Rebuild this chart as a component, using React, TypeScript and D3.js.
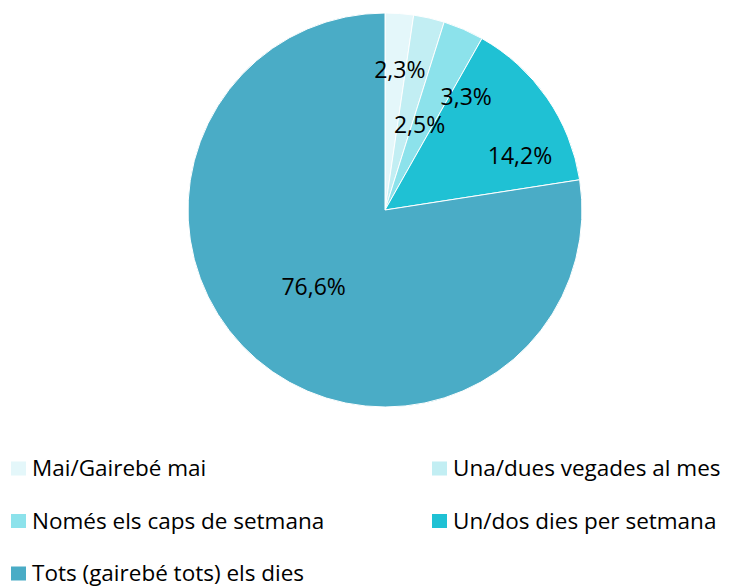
import React from 'react';
import * as d3 from 'd3';

const categories = [
  'Mai/Gairebé mai',
  'Una/dues vegades al mes',
  'Només els caps de setmana',
  'Un/dos dies per setmana',
  'Tots (gairebé tots) els dies',
];
const values = [2.3, 2.5, 3.3, 14.2, 76.6];
const labels = ['2,3%', '2,5%', '3,3%', '14,2%', '76,6%'];
const colors = ['#E4F7FA', '#C2EEF3', '#8CE2EB', '#1FC1D4', '#4AACC6'];

// label placement (angle nudge in degrees, distance as share of radius)
const labelPlace: [number, number][] = [
  [1.8, 0.72],
  [9, 0.47],
  [12, 0.71],
  [12.5, 0.74],
  [2.5, 0.53],
];

const W = 731;
const H = 587;
const cx = 385;
const cy = 210;
const R = 197;

const App: React.FC = () => {
  const pie = d3.pie<number>().sort(null).value((d) => d)(values);
  const arc = d3.arc<d3.PieArcDatum<number>>().innerRadius(0).outerRadius(R);

  const legendX = d3.scaleOrdinal<number, number>().domain([0, 1]).range([11, 432]);
  const legendY = d3.scaleLinear().domain([0, 1]).range([468.5, 521]);

  return (
    <svg width={W} height={H} style={{ position: 'absolute', left: 0, top: 0 }}>
      <rect width={W} height={H} fill="#fff" />
      <g transform={`translate(${cx},${cy})`}>
        {pie.map((p, i) => (
          <path key={i} d={arc(p) || ''} fill={colors[i]} stroke="#fff" strokeWidth={1} />
        ))}
        {pie.map((p, i) => {
          const mid = (p.startAngle + p.endAngle) / 2 + (labelPlace[i][0] * Math.PI) / 180;
          const r = labelPlace[i][1] * R;
          return (
            <text
              key={i}
              x={Math.sin(mid) * r}
              y={-Math.cos(mid) * r}
              textAnchor="middle"
              dominantBaseline="central"
              fontFamily="'Open Sans', sans-serif"
              fontSize={23}
              fill="#000"
            >
              {labels[i]}
            </text>
          );
        })}
      </g>
      <g fontFamily="'Open Sans', sans-serif" fontSize={22.5} fill="#000">
        {categories.map((c, i) => {
          const x = legendX(i % 2);
          const y = legendY(Math.floor(i / 2));
          return (
            <g key={c} transform={`translate(${x},${y})`}>
              <rect x={0} y={-7} width={15} height={14} fill={colors[i]} />
              <text x={21} y={7.5}>
                {c}
              </text>
            </g>
          );
        })}
      </g>
    </svg>
  );
};

export default App;
